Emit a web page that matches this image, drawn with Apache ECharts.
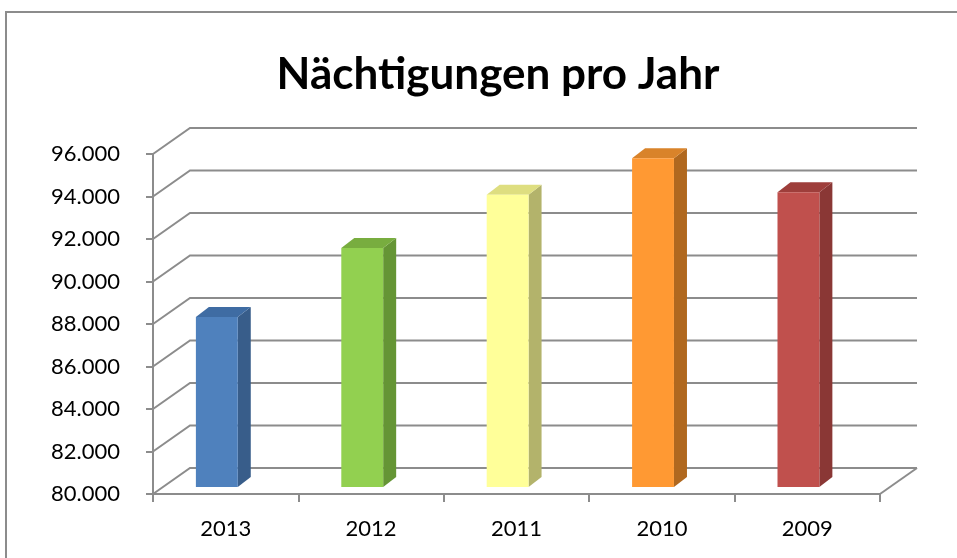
<!DOCTYPE html>
<html>
<head>
<meta charset="utf-8">
<title>Nächtigungen pro Jahr</title>
<script src="https://cdn.jsdelivr.net/npm/echarts@6/dist/echarts.min.js"></script>
<style>
  html, body { margin: 0; padding: 0; background: #fff; }
  #chart { width: 957px; height: 558px; }
</style>
</head>
<body>
<div id="chart"></div>
<script>
// Daten
const years = ["2013", "2012", "2011", "2010", "2009"];
const naechte = [88000, 91250, 93750, 95470, 93870];
const yTicks = [80000, 82000, 84000, 86000, 88000, 90000, 92000, 94000, 96000];

// Farben der Säulen (Vorderseite / Seite / Deckel)
const frontColors = ["#4f81bd", "#92d050", "#ffff99", "#ff9933", "#c0504d"];
const sideColors = ["#385d8a", "#659535", "#b3b36b", "#b0681f", "#8a3735"];
const topColors = ["#3f6ca3", "#78ad3f", "#dede80", "#d9832a", "#9e3e3b"];

const gridColor = "#8c8c8c";
// Tiefe der Rückwand (Pixel)
const wallDx = 37;
const wallDy = 26;

const chart = echarts.init(document.getElementById("chart"));

chart.setOption({
  backgroundColor: "#fff",
  animation: false,
  title: {
    text: "Nächtigungen pro Jahr",
    left: 493,
    top: 48,
    textAlign: "center",
    textStyle: {
      fontFamily: "Lato",
      fontWeight: "bold",
      fontSize: 44,
      color: "#000"
    }
  },
  graphic: [
    {
      // Rahmen um das Diagramm
      type: "rect",
      shape: { x: 6, y: 12, width: 1000, height: 600 },
      style: { fill: "none", stroke: gridColor, lineWidth: 2 },
      silent: true
    }
  ],
  grid: {
    left: 153,
    right: 77,
    top: 154,
    bottom: 64
  },
  xAxis: {
    type: "category",
    data: years,
    axisLine: { lineStyle: { color: gridColor, width: 2 } },
    axisTick: { show: true, length: 8, lineStyle: { color: gridColor, width: 2 } },
    axisLabel: {
      fontFamily: "Lato",
      fontSize: 22,
      color: "#000",
      margin: 24
    },
    splitLine: { show: false }
  },
  yAxis: {
    type: "value",
    min: 80000,
    max: 96000,
    interval: 2000,
    axisLine: { show: true, lineStyle: { color: gridColor, width: 2 } },
    axisTick: { show: true, length: 7, lineStyle: { color: gridColor, width: 2 } },
    axisLabel: {
      fontFamily: "Lato",
      fontSize: 22,
      color: "#000",
      margin: 33,
      formatter: v => (v / 1000).toFixed(3)
    },
    splitLine: { show: false }
  },
  series: [
    {
      // Gitternetz an Seiten- und Rückwand
      type: "custom",
      silent: true,
      z: 1,
      clip: false,
      data: yTicks.map(v => [0, v]),
      renderItem(params, api) {
        const cs = params.coordSys;
        const y = api.coord([0, api.value(1)])[1];
        const pts = [
          [cs.x, y],
          [cs.x + wallDx, y - wallDy],
          [cs.x + cs.width + wallDx, y - wallDy]
        ];
        const children = [{
          type: "polyline",
          shape: { points: pts },
          style: { stroke: gridColor, lineWidth: 2, fill: null }
        }];
        if (api.value(1) === yTicks[0]) {
          // rechte Bodenkante
          children.push({
            type: "line",
            shape: {
              x1: cs.x + cs.width, y1: y,
              x2: cs.x + cs.width + wallDx, y2: y - wallDy
            },
            style: { stroke: gridColor, lineWidth: 2 }
          });
        }
        return { type: "group", children };
      }
    },
    {
      // 3D-Säulen
      type: "custom",
      z: 2,
      clip: false,
      data: naechte.map((v, i) => [i, v]),
      renderItem(params, api) {
        const i = api.value(0);
        const top = api.coord([i, api.value(1)]);
        const base = api.coord([i, yTicks[0]]);
        const band = api.size([1, 0])[0];
        const w = band * 0.288;
        const x0 = top[0] - band * 0.205;
        const x1 = x0 + w;
        const yT = top[1] - 7;
        const yB = base[1] - 7;
        const dx = 13, dy = 10;
        return {
          type: "group",
          children: [
            {
              type: "polygon",
              shape: { points: [[x1, yT], [x1 + dx, yT - dy], [x1 + dx, yB - dy], [x1, yB]] },
              style: { fill: sideColors[i] }
            },
            {
              type: "polygon",
              shape: { points: [[x0, yT], [x0 + dx, yT - dy], [x1 + dx, yT - dy], [x1, yT]] },
              style: { fill: topColors[i] }
            },
            {
              type: "rect",
              shape: { x: x0, y: yT, width: w, height: yB - yT },
              style: { fill: frontColors[i] }
            }
          ]
        };
      }
    }
  ]
});
</script>
</body>
</html>
